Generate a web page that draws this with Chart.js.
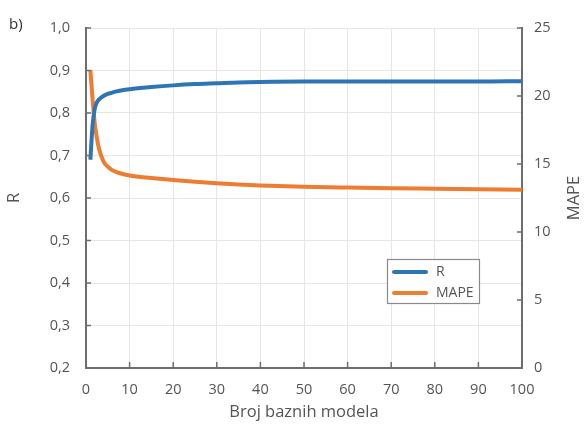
<!DOCTYPE html>
<html>
<head>
<meta charset="utf-8">
<script src="https://cdn.jsdelivr.net/npm/chart.js@4"></script>
<style>
  html, body { margin: 0; padding: 0; background: #fff; }
  canvas { display: block; }
</style>
</head>
<body>
<canvas id="c" width="584" height="426"></canvas>
<script>
// number of base models (x), R and MAPE
const models = [1, 1.5, 2, 2.5, 3, 4, 5, 6, 7, 8, 10, 15, 20, 25, 30, 35, 40, 50, 60, 70, 80, 90, 100];
const rValues = [0.69, 0.77, 0.81, 0.825, 0.832, 0.84, 0.845, 0.848, 0.851, 0.853, 0.856, 0.861, 0.865, 0.868, 0.870, 0.872, 0.873, 0.874, 0.874, 0.874, 0.874, 0.874, 0.875];
const mapeValues = [21.9, 19.8, 18.0, 16.9, 16.1, 15.2, 14.8, 14.55, 14.4, 14.3, 14.15, 13.97, 13.82, 13.69, 13.58, 13.49, 13.42, 13.33, 13.27, 13.22, 13.18, 13.14, 13.1];

const FONT = "'Open Sans', 'Noto Sans', sans-serif";
const TEXT = "#555";
const AXIS = "#6e6e6e";
const GRID = "#e6e6e6";
const BLUE = "#2e75b6";
const ORANGE = "#ed7d31";

const comma = (v) => Number(v).toFixed(1).replace(".", ",");

// inward tick marks, panel letter, rotated right title, legend box
const decor = {
  id: "decor",
  afterDraw(chart) {
    const { ctx, chartArea: a, scales } = chart;
    ctx.save();
    ctx.strokeStyle = AXIS;
    ctx.lineWidth = 1.5;
    ctx.beginPath();
    scales.x.ticks.forEach((t) => {
      const px = scales.x.getPixelForValue(t.value);
      if (t.value === 0) return;
      ctx.moveTo(px, a.bottom); ctx.lineTo(px, a.bottom - 6);
    });
    scales.y.ticks.forEach((t) => {
      const py = scales.y.getPixelForValue(t.value);
      ctx.moveTo(a.left, py); ctx.lineTo(a.left + 5, py);
    });
    scales.y1.ticks.forEach((t) => {
      const py = scales.y1.getPixelForValue(t.value);
      ctx.moveTo(a.right, py); ctx.lineTo(a.right - 5, py);
    });
    ctx.stroke();

    ctx.fillStyle = "#333";
    ctx.font = "15px " + FONT;
    ctx.textAlign = "left";
    ctx.textBaseline = "middle";
    ctx.fillText("b)", 9, 25);

    ctx.fillStyle = TEXT;
    ctx.font = "16.5px " + FONT;
    ctx.translate(scales.y1.right - 10, (a.top + a.bottom) / 2);
    ctx.rotate(-Math.PI / 2);
    ctx.textAlign = "center";
    ctx.fillText("MAPE", 0, 0);
    ctx.restore();

    // legend
    ctx.save();
    const lx = a.right - 135, ly = a.top + 231;
    ctx.fillStyle = "#fff";
    ctx.fillRect(lx, ly, 92, 44);
    ctx.strokeStyle = "#8a8a8a";
    ctx.lineWidth = 1.2;
    ctx.strokeRect(lx + 0.5, ly + 0.5, 92, 44);
    ctx.lineCap = "round";
    ctx.lineWidth = 4;
    ctx.font = "14px " + FONT;
    ctx.textBaseline = "middle";
    chart.data.datasets.forEach((ds, i) => {
      const y = ly + 13 + i * 21;
      ctx.strokeStyle = ds.borderColor;
      ctx.beginPath();
      ctx.moveTo(lx + 7, y); ctx.lineTo(lx + 39, y);
      ctx.stroke();
      ctx.fillStyle = TEXT;
      ctx.fillText(ds.label, lx + 49, y);
    });
    ctx.restore();
  }
};

new Chart(document.getElementById("c"), {
  type: "line",
  data: {
    datasets: [{
      label: "R",
      data: models.map((x, i) => ({ x, y: rValues[i] })),
      yAxisID: "y",
      borderColor: BLUE,
      borderWidth: 4,
      pointRadius: 0,
      cubicInterpolationMode: "monotone"
    }, {
      label: "MAPE",
      data: models.map((x, i) => ({ x, y: mapeValues[i] })),
      yAxisID: "y1",
      borderColor: ORANGE,
      borderWidth: 4,
      pointRadius: 0,
      cubicInterpolationMode: "monotone"
    }]
  },
  options: {
    responsive: false,
    animation: false,
    layout: { padding: { top: 28 } },
    plugins: { legend: { display: false }, tooltip: { enabled: false } },
    scales: {
      x: {
        type: "linear",
        min: 0,
        max: 100,
        grid: { color: GRID, drawTicks: false },
        border: { color: AXIS, width: 2 },
        ticks: { stepSize: 10, padding: 13, color: TEXT, font: { family: FONT, size: 14.5 }, maxRotation: 0 },
        title: { display: true, text: "Broj baznih modela", color: TEXT, font: { family: FONT, size: 16.5 }, padding: { top: 4 } },
        afterFit: (s) => { s.height = 58; }
      },
      y: {
        position: "left",
        min: 0.2,
        max: 1.0,
        grid: { color: GRID, drawTicks: false },
        border: { color: AXIS, width: 2 },
        ticks: { stepSize: 0.1, padding: 16, color: TEXT, font: { family: FONT, size: 14.5 }, callback: comma },
        title: { display: true, text: "R", color: TEXT, font: { family: FONT, size: 16.5 }, padding: { bottom: 0 } },
        afterFit: (s) => { s.width = 86; }
      },
      y1: {
        position: "right",
        min: 0,
        max: 25,
        grid: { drawOnChartArea: false, drawTicks: false },
        border: { color: AXIS, width: 2 },
        ticks: { stepSize: 5, padding: 12, color: TEXT, font: { family: FONT, size: 14.5 } },
        afterFit: (s) => { s.width = 62; }
      }
    }
  },
  plugins: [decor]
});
</script>
</body>
</html>
